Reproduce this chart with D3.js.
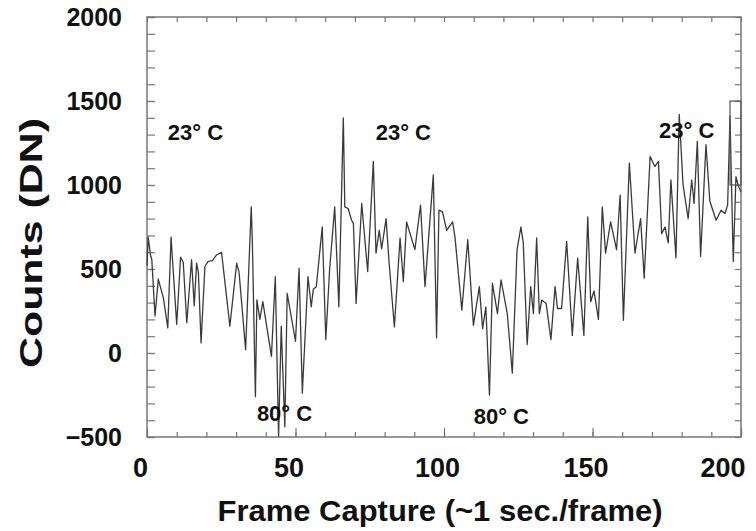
<!DOCTYPE html>
<html>
<head>
<meta charset="utf-8">
<script src="https://cdn.jsdelivr.net/npm/d3@7"></script>
<style>
  body { margin: 0; background: #fff; }
  svg text { font-family: "Liberation Sans", Arial, sans-serif; font-weight: bold; fill: #111; }
</style>
</head>
<body>
<svg id="vis" width="756" height="531"></svg>
<script>
// frame number / counts
var frames = [0, 0.4, 1.2, 1.6, 2.7, 3.8, 4.4, 5.5, 7, 8.1, 10, 11.3, 12.2, 13.4, 15, 15.9, 16.7, 17.3, 18.2, 19.5,
  20.6, 22, 23.5, 25.1, 27.9, 30.2, 31, 33.2, 35.1, 35.5, 36.5, 37, 38, 39, 41.9, 43.2, 44.3, 45.2, 46.4, 47.2,
  50, 51.2, 52.3, 54.2, 55.3, 56, 57, 59, 60.2, 61.5, 63.2, 64.6, 66.1, 66.6, 67.7, 68.9, 69.5, 70.4, 72.3, 74.3,
  76.2, 77.1, 78.2, 79, 80.5, 81.5, 83.3, 85.2, 86.3, 87.4, 90.2, 92.1, 93.6, 96.4, 97.5, 98.3, 99.5, 100.9, 102.9, 103.7,
  106, 108, 109.9, 111.9, 113, 114.1, 115.3, 116.3, 118, 119.2, 121.3, 123, 124.6, 125.9, 126.7, 128, 129.2, 130.1, 131.2, 132.1,
  132.9, 134.4, 136, 137.4, 138.2, 139.6, 141.3, 143.2, 145, 147.1, 148.4, 149.4, 150.5, 152, 153.3, 154.4, 156.1, 158.1, 159.3, 160.4,
  162.4, 164.3, 166.2, 167.4, 169.4, 171, 172.2, 173.3, 174.4, 175.5, 176.4, 178.1, 179.2, 180.5, 182.2, 183.4, 184.2, 185.3, 186.4, 188.2,
  189.5, 191.6, 193.3, 194.6, 195.5, 196.3, 196.8, 197.4, 198.3, 199.2, 200];
var counts = [520, 690, 580, 560, 220, 440, 400, 330, 150, 690, 170, 570, 540, 180, 555, 280, 535, 480, 60, 515,
  545, 550, 585, 600, 160, 535, 480, 20, 870, 640, -260, 316, 200, 306, -20, 455, -495, 160, -440, 355,
  70, 505, -240, 455, 275, 380, 395, 750, 80, 500, 870, 275, 1400, 870, 860, 790, 770, 295, 890, 485,
  1140, 595, 730, 620, 800, 540, 155, 685, 425, 780, 615, 880, 395, 1060, 90, 850, 840, 730, 780, 690,
  255, 675, 165, 395, 145, 275, -250, 415, 235, 435, 235, -120, 615, 750, 655, 50, 395, 235, 685, 235,
  315, 295, 80, 395, 265, 265, 665, 105, 565, 105, 810, 305, 370, 200, 870, 595, 780, 615, 940, 195,
  1130, 595, 800, 445, 1170, 1110, 1140, 710, 750, 655, 1030, 565, 1420, 1000, 800, 1030, 890, 1260, 575, 1240,
  905, 790, 850, 830, 880, 1410, 1000, 545, 1050, 990, 960];

// little box drawn at the right edge of the trace
var boxFrames = [196.3, 200];
var boxCounts = [1000, 1500];

var xMajor = [0, 50, 100, 150, 200];
var yMajor = [-500, 0, 500, 1000, 1500, 2000];

var notes = [
  { text: "23\u00B0 C", frame: 7, value: 1268 },
  { text: "23\u00B0 C", frame: 77, value: 1268 },
  { text: "23\u00B0 C", frame: 172.4, value: 1280 },
  { text: "80\u00B0 C", frame: 37, value: -405 },
  { text: "80\u00B0 C", frame: 110, value: -422 }
];

var svg = d3.select("#vis");
var x = d3.scaleLinear().domain([0, 200]).range([147, 741]);
var y = d3.scaleLinear().domain([-500, 2000]).range([437, 17]);

var minorX = d3.range(0, 201, 10);
var minorY = d3.range(-500, 2001, 100);

// ticks (all pointing into the plot)
svg.append("g").attr("transform", "translate(0," + y(-500) + ")")
  .call(d3.axisBottom(x).tickValues(minorX).tickSize(-5).tickFormat(""));
var xLab = svg.append("g").attr("transform", "translate(0," + y(-500) + ")")
  .call(d3.axisBottom(x).tickValues(xMajor).tickSize(-9).tickPadding(21).tickFormat(d3.format("d")))
  .selectAll("text").style("font-size", "27px")
  .attr("dx", function(d) { return d === 200 ? 4 : -7; })
  .attr("text-anchor", function(d) { return d === 200 ? "end" : "middle"; });
svg.append("g").attr("transform", "translate(0," + y(2000) + ")")
  .call(d3.axisTop(x).tickValues(minorX).tickSize(-5).tickFormat(""));
svg.append("g").attr("transform", "translate(" + x(0) + ",0)")
  .call(d3.axisLeft(y).tickValues(minorY).tickSize(-8).tickFormat(""));
svg.append("g").attr("transform", "translate(" + x(0) + ",0)")
  .call(d3.axisLeft(y).tickValues(yMajor).tickSize(-8).tickPadding(25).tickFormat(d3.format("d")))
  .selectAll("text").style("font-size", "25px");
svg.append("g").attr("transform", "translate(" + x(200) + ",0)")
  .call(d3.axisRight(y).tickValues(minorY).tickSize(-6).tickFormat(""));

svg.selectAll(".domain").remove();
svg.selectAll(".tick line").attr("stroke", "#777").attr("stroke-width", 1.2);

// frame
svg.append("rect")
  .attr("x", x(0)).attr("y", y(2000))
  .attr("width", x(200) - x(0)).attr("height", y(-500) - y(2000))
  .attr("fill", "none").attr("stroke", "#777").attr("stroke-width", 1.5);

// trace
var line = d3.line().x(function(d, i) { return x(frames[i]); }).y(function(d) { return y(d); });
svg.append("path").datum(counts)
  .attr("d", line)
  .attr("fill", "none").attr("stroke", "#3a3a3a").attr("stroke-width", 1.3)
  .attr("stroke-linejoin", "round");

svg.append("rect")
  .attr("x", x(boxFrames[0])).attr("y", y(boxCounts[1]))
  .attr("width", x(boxFrames[1]) - x(boxFrames[0])).attr("height", y(boxCounts[0]) - y(boxCounts[1]))
  .attr("fill", "none").attr("stroke", "#555").attr("stroke-width", 1.2);

// temperature notes
svg.selectAll("text.note").data(notes).enter().append("text")
  .attr("class", "note")
  .attr("x", function(d) { return x(d.frame); })
  .attr("y", function(d) { return y(d.value); })
  .style("font-size", "22px")
  .text(function(d) { return d.text; });

// axis titles
svg.append("text")
  .attr("transform", "translate(42,243) rotate(-90)")
  .attr("text-anchor", "middle")
  .attr("textLength", 250).attr("lengthAdjust", "spacingAndGlyphs")
  .style("font-size", "31px")
  .text("Counts (DN)");

svg.append("text")
  .attr("x", 440).attr("y", 521)
  .attr("text-anchor", "middle")
  .attr("textLength", 445).attr("lengthAdjust", "spacingAndGlyphs")
  .style("font-size", "30px")
  .text("Frame Capture (~1 sec./frame)");
</script>
</body>
</html>
